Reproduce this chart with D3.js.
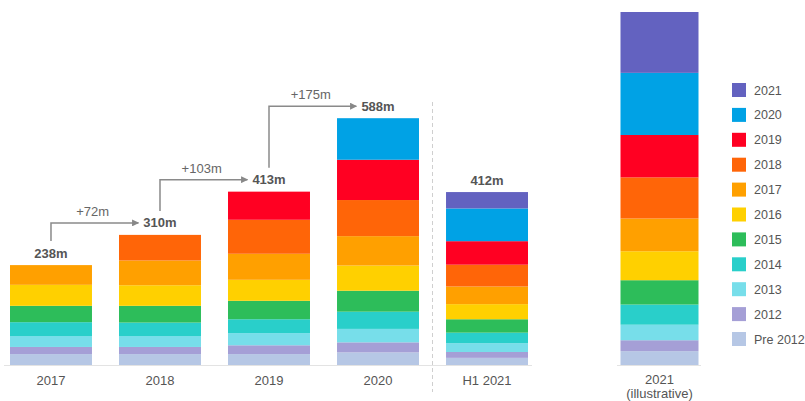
<!DOCTYPE html>
<html>
<head>
<meta charset="utf-8">
<script src="https://cdn.jsdelivr.net/npm/d3@7"></script>
<style>
  html, body { margin: 0; padding: 0; background: #fff; }
  svg { display: block; font-family: "Liberation Sans", Arial, sans-serif; }
</style>
</head>
<body>
<svg id="chart" width="805" height="401"></svg>
<script>
// Columns: four full years, the first half of 2021, and an illustrative full 2021
const categories = ["2017", "2018", "2019", "2020", "H1 2021"];
const illustrativeCategory = "2021";
const illustrativeNote = "(illustrative)";
const columns = [...categories, illustrativeCategory];

// Cohorts, stacked bottom to top
const cohorts = ["Pre 2012", "2012", "2013", "2014", "2015", "2016", "2017", "2018", "2019", "2020", "2021"];

// Values (m) per cohort, one entry per column
const pre2012 = [26, 26, 26, 30, 17, 33];
const c2012   = [17, 17, 21, 24, 14, 26];
const c2013   = [26, 26, 29, 32, 21, 37];
const c2014   = [33, 32, 33, 41, 25, 48];
const c2015   = [39, 40, 44, 50, 32, 58];
const c2016   = [50, 49, 50, 60, 36, 69];
const c2017   = [47, 59, 62, 70, 42, 78];
const c2018   = [0, 61, 81, 86, 52, 98];
const c2019   = [0, 0, 67, 96, 56, 101];
const c2020   = [0, 0, 0, 99, 78, 148];
const c2021   = [0, 0, 0, 0, 39, 145];

const cohortColors = ["#b6c7e5", "#a59fd6", "#77deea", "#29cfca", "#2dbd5a", "#ffd000",
                      "#ffa000", "#ff6508", "#ff0022", "#00a2e5", "#6362c0"];

const series = [pre2012, c2012, c2013, c2014, c2015, c2016, c2017, c2018, c2019, c2020, c2021];

// Table for the stack layout
const table = columns.map((col, i) => {
  const row = { column: col };
  cohorts.forEach((c, j) => { row[c] = series[j][i]; });
  return row;
});
const totals = columns.map((col, i) => d3.sum(series, s => s[i]));

const svg = d3.select("#chart");

const baseY = 365;
const y = d3.scaleLinear().domain([0, d3.max(totals)]).range([baseY, 12]);

const xMain = d3.scaleBand().domain(categories).range([10, 528]).paddingInner(0.248).paddingOuter(0);
const xIllus = d3.scaleBand().domain([illustrativeCategory]).range([620.5, 698.5]).padding(0);
const last = columns.length - 1;
const xPos = i => i === last ? xIllus(illustrativeCategory) : xMain(categories[i]);
const bw = i => i === last ? xIllus.bandwidth() : xMain.bandwidth();

const color = d3.scaleOrdinal().domain(cohorts).range(cohortColors);

// Baselines
svg.append("line").attr("x1", 4).attr("x2", 532).attr("y1", baseY + 0.5).attr("y2", baseY + 0.5)
  .attr("stroke", "#e3e3e3").attr("stroke-width", 1);
svg.append("line").attr("x1", 617).attr("x2", 701).attr("y1", baseY + 0.5).attr("y2", baseY + 0.5)
  .attr("stroke", "#e3e3e3").attr("stroke-width", 1);

// Divider between full years and the half year
svg.append("line").attr("x1", 432.5).attr("x2", 432.5).attr("y1", 102).attr("y2", 392)
  .attr("stroke", "#cfcfcf").attr("stroke-width", 1).attr("stroke-dasharray", "4,3");

// Stacked bars
const stacked = d3.stack().keys(cohorts)(table);
svg.append("g").selectAll("g").data(stacked).join("g")
  .attr("fill", d => color(d.key))
  .selectAll("rect").data(d => d.map((v, i) => ({ v, i }))).join("rect")
  .attr("x", d => xPos(d.i))
  .attr("width", d => bw(d.i))
  .attr("y", d => y(d.v[1]))
  .attr("height", d => y(d.v[0]) - y(d.v[1]));

// Category labels
const labelG = svg.append("g").attr("font-size", 13).attr("fill", "#555").attr("text-anchor", "middle");
categories.forEach((c, i) => {
  labelG.append("text").attr("x", xPos(i) + bw(i) / 2).attr("y", 385).text(c);
});
labelG.append("text").attr("x", xPos(last) + bw(last) / 2).attr("y", 384).text(illustrativeCategory);
labelG.append("text").attr("x", xPos(last) + bw(last) / 2).attr("y", 398).text(illustrativeNote);

// Total labels above the first five bars
const valueG = svg.append("g").attr("font-size", 13).attr("font-weight", "bold")
  .attr("fill", "#555").attr("text-anchor", "middle");
const labelCenter = categories.map((c, i) => ({
  x: xPos(i) + bw(i) / 2,
  cy: y(totals[i]) - 12
}));
const valueTexts = categories.map((c, i) =>
  valueG.append("text").attr("x", labelCenter[i].x).attr("y", labelCenter[i].cy + 4.5)
    .text(totals[i] + "m"));

// Growth arrows between consecutive full years
svg.append("defs").append("marker")
  .attr("id", "arrowhead").attr("viewBox", "0 0 10 10").attr("refX", 9).attr("refY", 5)
  .attr("markerWidth", 7).attr("markerHeight", 7).attr("markerUnits", "userSpaceOnUse")
  .attr("orient", "auto")
  .append("path").attr("d", "M0,0 L10,5 L0,10 Z").attr("fill", "#888");

const arrowG = svg.append("g");
for (let i = 0; i < 3; i++) {
  const from = labelCenter[i], to = labelCenter[i + 1];
  const nextW = valueTexts[i + 1].node().getComputedTextLength();
  const x0 = from.x, y0 = from.cy - 12;
  const x1 = to.x - nextW / 2 - 5, y1 = to.cy;
  arrowG.append("path")
    .attr("d", `M${x0},${y0} L${x0},${y1} L${x1},${y1}`)
    .attr("fill", "none").attr("stroke", "#8a8a8a").attr("stroke-width", 1.5)
    .attr("marker-end", "url(#arrowhead)");
  arrowG.append("text").attr("x", (x0 + x1) / 2 - 2).attr("y", y1 - 7)
    .attr("text-anchor", "middle").attr("font-size", 13).attr("fill", "#666")
    .text("+" + (totals[i + 1] - totals[i]) + "m");
}

// Legend, newest cohort first
const legend = svg.append("g").attr("font-size", 12.5).attr("fill", "#555");
const legendItems = cohorts.slice().reverse();
legendItems.forEach((c, k) => {
  const cy = 90 + k * 24.9;
  legend.append("rect").attr("x", 732).attr("y", cy - 7).attr("width", 14).attr("height", 14)
    .attr("fill", color(c));
  legend.append("text").attr("x", 754).attr("y", cy + 4.5).text(c);
});
</script>
</body>
</html>
